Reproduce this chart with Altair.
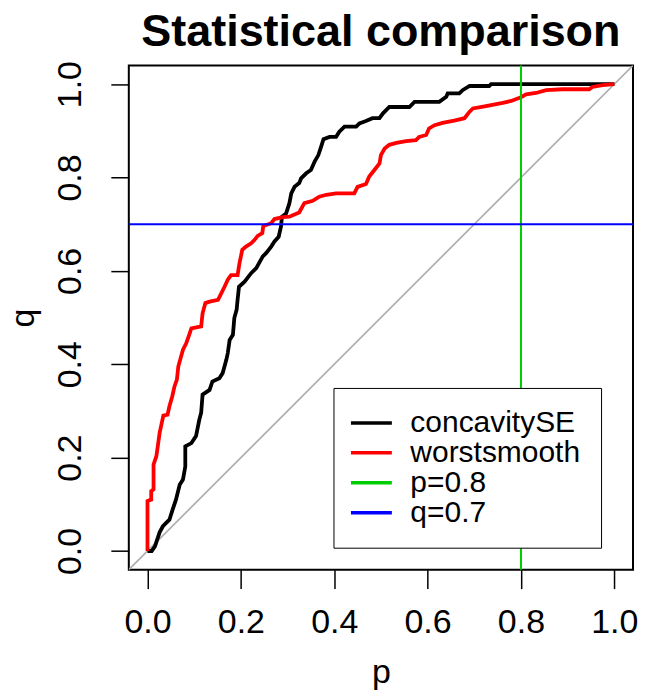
import altair as alt
import pandas as pd

# concavitySE curve
p_cse = [0.0, 0.009, 0.016, 0.026, 0.033, 0.047, 0.054, 0.061, 0.069, 0.076, 0.081, 0.081,
         0.094, 0.104, 0.111, 0.115, 0.118, 0.133, 0.139, 0.154, 0.161, 0.169, 0.172, 0.176,
         0.183, 0.186, 0.191, 0.193, 0.196, 0.208, 0.222, 0.233, 0.247, 0.254, 0.265, 0.272,
         0.281, 0.286, 0.288, 0.297, 0.304, 0.308, 0.315, 0.325, 0.329, 0.340, 0.350, 0.358,
         0.366, 0.372, 0.377, 0.390, 0.404, 0.411, 0.422, 0.447, 0.454, 0.468, 0.482, 0.497,
         0.504, 0.518, 0.561, 0.572, 0.625, 0.640, 0.643, 0.668, 0.675, 0.690, 0.732, 0.736, 1.0]
q_cse = [0.0, 0.0, 0.01, 0.04, 0.053, 0.067, 0.089, 0.11, 0.142, 0.153, 0.181, 0.224,
         0.231, 0.246, 0.281, 0.296, 0.335, 0.345, 0.363, 0.370, 0.381, 0.41, 0.424, 0.452,
         0.463, 0.499, 0.517, 0.538, 0.566, 0.577, 0.595, 0.606, 0.631, 0.638, 0.652, 0.663,
         0.673, 0.695, 0.716, 0.723, 0.745, 0.766, 0.780, 0.788, 0.798, 0.809, 0.816, 0.834,
         0.848, 0.866, 0.882, 0.887, 0.887, 0.898, 0.909, 0.909, 0.916, 0.921, 0.927, 0.927,
         0.937, 0.951, 0.951, 0.962, 0.962, 0.973, 0.980, 0.980, 0.987, 0.996, 0.996, 1.0, 1.0]

# worstsmooth curve
p_ws = [0.0, 0.0, 0.008, 0.008, 0.013, 0.013, 0.019, 0.022, 0.026, 0.029, 0.034, 0.043,
        0.047, 0.053, 0.058, 0.063, 0.066, 0.076, 0.083, 0.088, 0.094, 0.115, 0.118, 0.124,
        0.133, 0.151, 0.158, 0.165, 0.172, 0.179, 0.193, 0.197, 0.203, 0.211, 0.222, 0.229,
        0.236, 0.246, 0.248, 0.265, 0.272, 0.290, 0.304, 0.325, 0.336, 0.354, 0.368, 0.383,
        0.404, 0.443, 0.450, 0.468, 0.475, 0.486, 0.497, 0.500, 0.508, 0.518, 0.533, 0.554,
        0.575, 0.582, 0.597, 0.603, 0.615, 0.632, 0.657, 0.679, 0.690, 0.697, 0.725, 0.761,
        0.779, 0.800, 0.811, 0.832, 0.854, 0.889, 0.946, 0.953, 0.975, 1.0]
q_ws = [0.0, 0.107, 0.110, 0.128, 0.132, 0.185, 0.203, 0.224, 0.253, 0.267, 0.290, 0.292,
        0.310, 0.331, 0.353, 0.367, 0.395, 0.431, 0.445, 0.459, 0.477, 0.481, 0.509, 0.531,
        0.534, 0.538, 0.552, 0.566, 0.581, 0.591, 0.591, 0.616, 0.645, 0.652, 0.659, 0.666,
        0.675, 0.681, 0.696, 0.702, 0.711, 0.715, 0.716, 0.725, 0.745, 0.750, 0.759, 0.763,
        0.766, 0.766, 0.780, 0.786, 0.802, 0.816, 0.830, 0.848, 0.862, 0.870, 0.874, 0.878,
        0.880, 0.887, 0.891, 0.905, 0.912, 0.917, 0.922, 0.927, 0.941, 0.948, 0.953, 0.960,
        0.964, 0.972, 0.978, 0.981, 0.987, 0.989, 0.989, 0.994, 0.998, 1.0]

series_names = ["concavitySE", "worstsmooth", "p=0.8", "q=0.7"]
series_colors = ["#000000", "#FF0000", "#00CD00", "#0000FF"]
p_cut = [0.8]
q_cut = [0.7]
diag = [-0.04, 1.04]
ticks = [0.0, 0.2, 0.4, 0.6, 0.8, 1.0]
domain = [-0.04, 1.04]

curves = pd.concat([
    pd.DataFrame({"series": "concavitySE", "p": p_cse, "q": q_cse, "i": range(len(p_cse))}),
    pd.DataFrame({"series": "worstsmooth", "p": p_ws, "q": q_ws, "i": range(len(p_ws))}),
])
vline = pd.DataFrame({"series": ["p=0.8"], "p": p_cut})
hline = pd.DataFrame({"series": ["q=0.7"], "q": q_cut})
diag_df = pd.DataFrame({"p": diag, "q": diag})

FONT = "Liberation Sans"

xscale = alt.Scale(domain=domain, nice=False, zero=False)
yscale = alt.Scale(domain=domain, nice=False, zero=False)

xaxis = alt.Axis(values=ticks, format=".1f", title="p", labelBaseline="alphabetic",
                 labelPadding=44, tickSize=19, titleX=252.5, titleY=113,
                 titleBaseline="alphabetic", titleAlign="center")
yaxis = alt.Axis(values=ticks, format=".1f", title="q", labelAngle=270, labelAlign="center",
                 labelBaseline="alphabetic", labelPadding=30, tickSize=18,
                 titleX=-95, titleY=252.5, titleBaseline="alphabetic", titleAlign="center",
                 titleAngle=270)

color = alt.Color("series:N",
                  scale=alt.Scale(domain=series_names, range=series_colors),
                  legend=alt.Legend(orient="none", legendX=205, legendY=323, title=None,
                                    symbolType="M-1.71,0H2.29", symbolSize=420,
                                    symbolStrokeWidth=3.5,
                                    labelFontSize=30, labelFont=FONT, labelColor="black",
                                    labelLimit=400, labelOffset=27, padding=20,
                                    strokeColor="black", fillColor="white", rowPadding=-2.3))

diag_layer = alt.Chart(diag_df).mark_line(color="#B0B0B0", strokeWidth=1.7, clip=True).encode(
    x=alt.X("p:Q", scale=xscale, axis=xaxis),
    y=alt.Y("q:Q", scale=yscale, axis=yaxis),
)

curve_layer = alt.Chart(curves).mark_line(strokeWidth=3.8, clip=True).encode(
    x=alt.X("p:Q"),
    y=alt.Y("q:Q"),
    color=color,
    order="i:Q",
    detail="series:N",
)

vline_layer = alt.Chart(vline).mark_rule(strokeWidth=2).encode(
    x="p:Q", color=alt.Color("series:N"))
hline_layer = alt.Chart(hline).mark_rule(strokeWidth=2).encode(
    y="q:Q", color=alt.Color("series:N"))

chart = alt.layer(diag_layer, curve_layer, vline_layer, hline_layer).properties(
    width=505, height=505,
    title=alt.TitleParams("Statistical comparison", font=FONT, fontSize=45, fontWeight="bold",
                          anchor="middle", offset=6, color="black"),
    autosize=alt.AutoSizeParams(type="none"),
    padding={"left": 121, "top": 57, "right": 5, "bottom": 125},
).configure_view(stroke="black", strokeWidth=2).configure_axis(
    domain=False, grid=False, tickColor="black", tickWidth=1.5,
    labelFont=FONT, labelFontSize=34, labelColor="black",
    titleFont=FONT, titleFontSize=34, titleColor="black", titleFontWeight="normal",
)

chart.save("out.html", embed_options={"renderer": "svg", "actions": False})
